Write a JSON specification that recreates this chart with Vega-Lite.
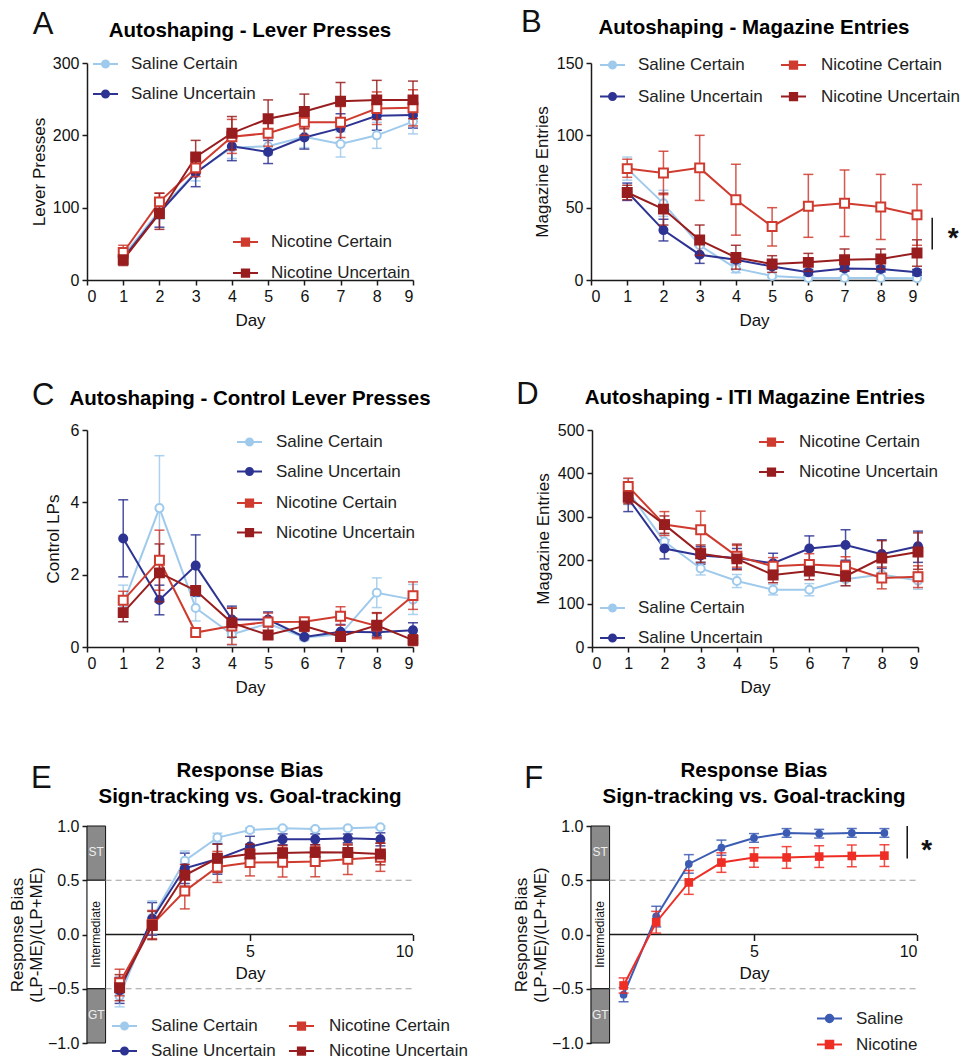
{
"$schema": "https://vega.github.io/schema/vega-lite/v6.json",
"padding": {"left": 8, "top": 6, "right": 5, "bottom": 5},
"bounds": "flush",
"spacing": 763,
"resolve": {"scale": {"color": "independent", "fill": "independent"}},
"config": {
  "font": "Liberation Sans",
  "view": {"stroke": null},
  "axis": {"domainColor": "#1a1a1a", "domainWidth": 1.5, "tickColor": "#1a1a1a", "tickWidth": 1.5, "tickSize": 5, "labelFontSize": 16, "labelColor": "#111", "labelPadding": 3, "titleFontSize": 17, "titleFontWeight": "normal", "titleColor": "#111", "grid": false, "labelOverlap": false},
  "axisX": {"labelAngle": 0},
  "legend": {"labelFontSize": 17, "labelColor": "#222", "padding": 0},
  "title": {"fontSize": 20.5, "fontWeight": "bold", "color": "#000", "anchor": "middle", "frame": "group", "offset": 0}
},
"datasets": {
"dA": [
{"g":"Saline Certain","day":1,"m":33,"lo":26,"hi":40},{"g":"Saline Certain","day":2,"m":96,"lo":84,"hi":108},{"g":"Saline Certain","day":3,"m":149,"lo":137,"hi":161},{"g":"Saline Certain","day":4,"m":183,"lo":168,"hi":198},{"g":"Saline Certain","day":5,"m":185,"lo":173,"hi":197},{"g":"Saline Certain","day":6,"m":198,"lo":183,"hi":213},{"g":"Saline Certain","day":7,"m":188,"lo":170,"hi":205},{"g":"Saline Certain","day":8,"m":200,"lo":182,"hi":218},{"g":"Saline Certain","day":9,"m":219,"lo":202,"hi":236},
{"g":"Saline Uncertain","day":1,"m":30,"lo":23,"hi":37},{"g":"Saline Uncertain","day":2,"m":93,"lo":73,"hi":113},{"g":"Saline Uncertain","day":3,"m":148,"lo":129,"hi":167},{"g":"Saline Uncertain","day":4,"m":185,"lo":165,"hi":205},{"g":"Saline Uncertain","day":5,"m":177,"lo":161,"hi":193},{"g":"Saline Uncertain","day":6,"m":197,"lo":181,"hi":213},{"g":"Saline Uncertain","day":7,"m":210,"lo":190,"hi":230},{"g":"Saline Uncertain","day":8,"m":227,"lo":207,"hi":247},{"g":"Saline Uncertain","day":9,"m":228,"lo":210,"hi":246},
{"g":"Nicotine Certain","day":1,"m":38,"lo":28,"hi":48},{"g":"Nicotine Certain","day":2,"m":108,"lo":96,"hi":120},{"g":"Nicotine Certain","day":3,"m":155,"lo":143,"hi":167},{"g":"Nicotine Certain","day":4,"m":198,"lo":175,"hi":222},{"g":"Nicotine Certain","day":5,"m":203,"lo":185,"hi":221},{"g":"Nicotine Certain","day":6,"m":218,"lo":200,"hi":237},{"g":"Nicotine Certain","day":7,"m":218,"lo":197,"hi":240},{"g":"Nicotine Certain","day":8,"m":237,"lo":215,"hi":260},{"g":"Nicotine Certain","day":9,"m":238,"lo":213,"hi":263},
{"g":"Nicotine Uncertain","day":1,"m":28,"lo":20,"hi":36},{"g":"Nicotine Uncertain","day":2,"m":92,"lo":70,"hi":120},{"g":"Nicotine Uncertain","day":3,"m":170,"lo":148,"hi":193},{"g":"Nicotine Uncertain","day":4,"m":203,"lo":180,"hi":226},{"g":"Nicotine Uncertain","day":5,"m":223,"lo":198,"hi":249},{"g":"Nicotine Uncertain","day":6,"m":233,"lo":209,"hi":257},{"g":"Nicotine Uncertain","day":7,"m":247,"lo":221,"hi":273},{"g":"Nicotine Uncertain","day":8,"m":249,"lo":222,"hi":276},{"g":"Nicotine Uncertain","day":9,"m":249,"lo":223,"hi":275}
],
"dB": [
{"g":"Saline Certain","day":1,"m":77,"lo":69,"hi":85},{"g":"Saline Certain","day":2,"m":53,"lo":44,"hi":62},{"g":"Saline Certain","day":3,"m":24,"lo":18,"hi":30},{"g":"Saline Certain","day":4,"m":8,"lo":5,"hi":11},{"g":"Saline Certain","day":5,"m":2.8,"lo":1.8,"hi":3.8},{"g":"Saline Certain","day":6,"m":1.4,"lo":0.8,"hi":2},{"g":"Saline Certain","day":7,"m":1.4,"lo":0.8,"hi":2},{"g":"Saline Certain","day":8,"m":1.4,"lo":0.8,"hi":2},{"g":"Saline Certain","day":9,"m":1.2,"lo":0.6,"hi":1.8},
{"g":"Saline Uncertain","day":1,"m":61,"lo":55,"hi":67},{"g":"Saline Uncertain","day":2,"m":34.5,"lo":27,"hi":42},{"g":"Saline Uncertain","day":3,"m":17.5,"lo":11.5,"hi":23.5},{"g":"Saline Uncertain","day":4,"m":14,"lo":11,"hi":17},{"g":"Saline Uncertain","day":5,"m":9.4,"lo":7.4,"hi":11.4},{"g":"Saline Uncertain","day":6,"m":5.3,"lo":3.3,"hi":7.3},{"g":"Saline Uncertain","day":7,"m":8,"lo":6,"hi":10},{"g":"Saline Uncertain","day":8,"m":7.6,"lo":5.6,"hi":9.6},{"g":"Saline Uncertain","day":9,"m":5.3,"lo":3.3,"hi":7.3},
{"g":"Nicotine Certain","day":1,"m":77,"lo":71,"hi":83.5},{"g":"Nicotine Certain","day":2,"m":74,"lo":59,"hi":89},{"g":"Nicotine Certain","day":3,"m":77.5,"lo":55,"hi":100},{"g":"Nicotine Certain","day":4,"m":55.5,"lo":31,"hi":80},{"g":"Nicotine Certain","day":5,"m":37,"lo":23.5,"hi":50},{"g":"Nicotine Certain","day":6,"m":51,"lo":29.5,"hi":73},{"g":"Nicotine Certain","day":7,"m":53,"lo":30,"hi":76},{"g":"Nicotine Certain","day":8,"m":50.4,"lo":28,"hi":73},{"g":"Nicotine Certain","day":9,"m":45,"lo":24,"hi":66},
{"g":"Nicotine Uncertain","day":1,"m":60.5,"lo":55.5,"hi":65.5},{"g":"Nicotine Uncertain","day":2,"m":49,"lo":38,"hi":60},{"g":"Nicotine Uncertain","day":3,"m":27.6,"lo":17,"hi":38},{"g":"Nicotine Uncertain","day":4,"m":15.6,"lo":7.5,"hi":24},{"g":"Nicotine Uncertain","day":5,"m":11,"lo":5.3,"hi":16.8},{"g":"Nicotine Uncertain","day":6,"m":12.2,"lo":6,"hi":18.4},{"g":"Nicotine Uncertain","day":7,"m":14,"lo":6.6,"hi":21.4},{"g":"Nicotine Uncertain","day":8,"m":14.5,"lo":7.6,"hi":21.4},{"g":"Nicotine Uncertain","day":9,"m":18.6,"lo":9.5,"hi":27.8}
],
"dC": [
{"g":"Saline Certain","day":1,"m":1.2,"lo":0.7,"hi":1.71},{"g":"Saline Certain","day":2,"m":3.84,"lo":2.38,"hi":5.29},{"g":"Saline Certain","day":3,"m":1.08,"lo":0.72,"hi":1.44},{"g":"Saline Certain","day":4,"m":0.35,"lo":0.05,"hi":0.65},{"g":"Saline Certain","day":5,"m":0.65,"lo":0.35,"hi":0.95},{"g":"Saline Certain","day":6,"m":0.26,"lo":0.18,"hi":0.34},{"g":"Saline Certain","day":7,"m":0.35,"lo":0.25,"hi":0.45},{"g":"Saline Certain","day":8,"m":1.5,"lo":1.09,"hi":1.91},{"g":"Saline Certain","day":9,"m":1.31,"lo":0.9,"hi":1.73},
{"g":"Saline Uncertain","day":1,"m":3.0,"lo":1.94,"hi":4.07},{"g":"Saline Uncertain","day":2,"m":1.3,"lo":0.89,"hi":1.71},{"g":"Saline Uncertain","day":3,"m":2.25,"lo":1.4,"hi":3.1},{"g":"Saline Uncertain","day":4,"m":0.76,"lo":0.38,"hi":1.13},{"g":"Saline Uncertain","day":5,"m":0.76,"lo":0.55,"hi":0.97},{"g":"Saline Uncertain","day":6,"m":0.28,"lo":0.23,"hi":0.33},{"g":"Saline Uncertain","day":7,"m":0.42,"lo":0.22,"hi":0.62},{"g":"Saline Uncertain","day":8,"m":0.41,"lo":0.31,"hi":0.51},{"g":"Saline Uncertain","day":9,"m":0.46,"lo":0.24,"hi":0.67},
{"g":"Nicotine Certain","day":1,"m":1.29,"lo":1.04,"hi":1.54},{"g":"Nicotine Certain","day":2,"m":2.4,"lo":1.57,"hi":3.23},{"g":"Nicotine Certain","day":3,"m":0.4,"lo":0.33,"hi":0.47},{"g":"Nicotine Certain","day":4,"m":0.58,"lo":0.07,"hi":1.08},{"g":"Nicotine Certain","day":5,"m":0.69,"lo":0.44,"hi":0.94},{"g":"Nicotine Certain","day":6,"m":0.7,"lo":0.6,"hi":0.8},{"g":"Nicotine Certain","day":7,"m":0.85,"lo":0.6,"hi":1.11},{"g":"Nicotine Certain","day":8,"m":0.58,"lo":0.23,"hi":0.93},{"g":"Nicotine Certain","day":9,"m":1.42,"lo":1.04,"hi":1.8},
{"g":"Nicotine Uncertain","day":1,"m":0.95,"lo":0.7,"hi":1.2},{"g":"Nicotine Uncertain","day":2,"m":2.05,"lo":1.25,"hi":2.85},{"g":"Nicotine Uncertain","day":3,"m":1.56,"lo":1.44,"hi":1.68},{"g":"Nicotine Uncertain","day":4,"m":0.67,"lo":0.27,"hi":1.07},{"g":"Nicotine Uncertain","day":5,"m":0.33,"lo":0.23,"hi":0.43},{"g":"Nicotine Uncertain","day":6,"m":0.58,"lo":0.43,"hi":0.73},{"g":"Nicotine Uncertain","day":7,"m":0.29,"lo":0.19,"hi":0.39},{"g":"Nicotine Uncertain","day":8,"m":0.6,"lo":0.27,"hi":0.95},{"g":"Nicotine Uncertain","day":9,"m":0.19,"lo":0.04,"hi":0.34}
],
"dD": [
{"g":"Saline Certain","day":1,"m":358,"lo":328,"hi":388},{"g":"Saline Certain","day":2,"m":243,"lo":228,"hi":258},{"g":"Saline Certain","day":3,"m":181,"lo":166,"hi":196},{"g":"Saline Certain","day":4,"m":152,"lo":137,"hi":167},{"g":"Saline Certain","day":5,"m":132,"lo":120,"hi":144},{"g":"Saline Certain","day":6,"m":132,"lo":118,"hi":146},{"g":"Saline Certain","day":7,"m":156,"lo":141,"hi":171},{"g":"Saline Certain","day":8,"m":167,"lo":149,"hi":185},{"g":"Saline Certain","day":9,"m":153,"lo":133,"hi":173},
{"g":"Saline Uncertain","day":1,"m":342,"lo":312,"hi":367},{"g":"Saline Uncertain","day":2,"m":227,"lo":203,"hi":247},{"g":"Saline Uncertain","day":3,"m":211,"lo":191,"hi":231},{"g":"Saline Uncertain","day":4,"m":205,"lo":180,"hi":227},{"g":"Saline Uncertain","day":5,"m":193,"lo":170,"hi":216},{"g":"Saline Uncertain","day":6,"m":227,"lo":199,"hi":256},{"g":"Saline Uncertain","day":7,"m":235,"lo":200,"hi":270},{"g":"Saline Uncertain","day":8,"m":214,"lo":181,"hi":247},{"g":"Saline Uncertain","day":9,"m":232,"lo":195,"hi":267},
{"g":"Nicotine Certain","day":1,"m":370,"lo":351,"hi":389},{"g":"Nicotine Certain","day":2,"m":282,"lo":257,"hi":312},{"g":"Nicotine Certain","day":3,"m":270,"lo":227,"hi":313},{"g":"Nicotine Certain","day":4,"m":209,"lo":184,"hi":234},{"g":"Nicotine Certain","day":5,"m":186,"lo":166,"hi":206},{"g":"Nicotine Certain","day":6,"m":190,"lo":165,"hi":215},{"g":"Nicotine Certain","day":7,"m":186,"lo":164,"hi":208},{"g":"Nicotine Certain","day":8,"m":159,"lo":134,"hi":184},{"g":"Nicotine Certain","day":9,"m":162,"lo":137,"hi":187},
{"g":"Nicotine Uncertain","day":1,"m":345,"lo":330,"hi":360},{"g":"Nicotine Uncertain","day":2,"m":282,"lo":262,"hi":302},{"g":"Nicotine Uncertain","day":3,"m":215,"lo":195,"hi":235},{"g":"Nicotine Uncertain","day":4,"m":203,"lo":178,"hi":237},{"g":"Nicotine Uncertain","day":5,"m":166,"lo":148,"hi":184},{"g":"Nicotine Uncertain","day":6,"m":175,"lo":155,"hi":195},{"g":"Nicotine Uncertain","day":7,"m":163,"lo":141,"hi":185},{"g":"Nicotine Uncertain","day":8,"m":205,"lo":165,"hi":245},{"g":"Nicotine Uncertain","day":9,"m":219,"lo":179,"hi":263}
],
"dE": [
{"g":"Saline Certain","day":1,"m":-0.567,"lo":-0.667,"hi":-0.467},{"g":"Saline Certain","day":2,"m":0.153,"lo":0.0,"hi":0.31},{"g":"Saline Certain","day":3,"m":0.68,"lo":0.59,"hi":0.77},{"g":"Saline Certain","day":4,"m":0.893,"lo":0.853,"hi":0.933},{"g":"Saline Certain","day":5,"m":0.963,"lo":0.943,"hi":0.983},{"g":"Saline Certain","day":6,"m":0.979,"lo":0.965,"hi":0.993},{"g":"Saline Certain","day":7,"m":0.972,"lo":0.958,"hi":0.986},{"g":"Saline Certain","day":8,"m":0.979,"lo":0.965,"hi":0.993},{"g":"Saline Certain","day":9,"m":0.988,"lo":0.975,"hi":1.0},
{"g":"Saline Uncertain","day":1,"m":-0.515,"lo":-0.635,"hi":-0.395},{"g":"Saline Uncertain","day":2,"m":0.144,"lo":-0.006,"hi":0.294},{"g":"Saline Uncertain","day":3,"m":0.61,"lo":0.47,"hi":0.75},{"g":"Saline Uncertain","day":4,"m":0.696,"lo":0.556,"hi":0.836},{"g":"Saline Uncertain","day":5,"m":0.81,"lo":0.71,"hi":0.905},{"g":"Saline Uncertain","day":6,"m":0.877,"lo":0.827,"hi":0.927},{"g":"Saline Uncertain","day":7,"m":0.877,"lo":0.827,"hi":0.927},{"g":"Saline Uncertain","day":8,"m":0.886,"lo":0.846,"hi":0.926},{"g":"Saline Uncertain","day":9,"m":0.877,"lo":0.817,"hi":0.937},
{"g":"Nicotine Certain","day":1,"m":-0.445,"lo":-0.565,"hi":-0.32},{"g":"Nicotine Certain","day":2,"m":0.092,"lo":-0.038,"hi":0.222},{"g":"Nicotine Certain","day":3,"m":0.4,"lo":0.236,"hi":0.564},{"g":"Nicotine Certain","day":4,"m":0.623,"lo":0.48,"hi":0.766},{"g":"Nicotine Certain","day":5,"m":0.663,"lo":0.54,"hi":0.786},{"g":"Nicotine Certain","day":6,"m":0.666,"lo":0.53,"hi":0.802},{"g":"Nicotine Certain","day":7,"m":0.672,"lo":0.532,"hi":0.812},{"g":"Nicotine Certain","day":8,"m":0.693,"lo":0.553,"hi":0.833},{"g":"Nicotine Certain","day":9,"m":0.712,"lo":0.582,"hi":0.842},
{"g":"Nicotine Uncertain","day":1,"m":-0.49,"lo":-0.61,"hi":-0.37},{"g":"Nicotine Uncertain","day":2,"m":0.083,"lo":-0.047,"hi":0.213},{"g":"Nicotine Uncertain","day":3,"m":0.546,"lo":0.446,"hi":0.646},{"g":"Nicotine Uncertain","day":4,"m":0.702,"lo":0.572,"hi":0.832},{"g":"Nicotine Uncertain","day":5,"m":0.742,"lo":0.652,"hi":0.832},{"g":"Nicotine Uncertain","day":6,"m":0.751,"lo":0.681,"hi":0.821},{"g":"Nicotine Uncertain","day":7,"m":0.758,"lo":0.688,"hi":0.828},{"g":"Nicotine Uncertain","day":8,"m":0.755,"lo":0.685,"hi":0.825},{"g":"Nicotine Uncertain","day":9,"m":0.742,"lo":0.642,"hi":0.842}
],
"dF": [
{"g":"Saline","day":1,"m":-0.555,"lo":-0.62,"hi":-0.49},{"g":"Saline","day":2,"m":0.166,"lo":0.07,"hi":0.26},{"g":"Saline","day":3,"m":0.65,"lo":0.565,"hi":0.736},{"g":"Saline","day":4,"m":0.8,"lo":0.73,"hi":0.87},{"g":"Saline","day":5,"m":0.89,"lo":0.85,"hi":0.93},{"g":"Saline","day":6,"m":0.936,"lo":0.896,"hi":0.976},{"g":"Saline","day":7,"m":0.929,"lo":0.889,"hi":0.969},{"g":"Saline","day":8,"m":0.936,"lo":0.896,"hi":0.976},{"g":"Saline","day":9,"m":0.936,"lo":0.896,"hi":0.976},
{"g":"Nicotine","day":1,"m":-0.47,"lo":-0.54,"hi":-0.4},{"g":"Nicotine","day":2,"m":0.113,"lo":0.013,"hi":0.213},{"g":"Nicotine","day":3,"m":0.48,"lo":0.37,"hi":0.59},{"g":"Nicotine","day":4,"m":0.663,"lo":0.573,"hi":0.753},{"g":"Nicotine","day":5,"m":0.71,"lo":0.62,"hi":0.8},{"g":"Nicotine","day":6,"m":0.71,"lo":0.61,"hi":0.81},{"g":"Nicotine","day":7,"m":0.718,"lo":0.618,"hi":0.818},{"g":"Nicotine","day":8,"m":0.724,"lo":0.624,"hi":0.824},{"g":"Nicotine","day":9,"m":0.727,"lo":0.627,"hi":0.827}
]
},
"vconcat": [
{
"bounds": "flush",
"spacing": 367,
"resolve": {"scale": {"color": "independent", "fill": "independent"}},
"vconcat": [
{
"bounds": "flush",
"spacing": 178,
"resolve": {"scale": {"color": "independent", "fill": "independent"}},
"hconcat": [
{
"width": 326, "height": 217,
"data": {"name": "dA"},
"title": {"text": "Autoshaping - Lever Presses", "dy": 36},
"layer": [
{"transform": [{"filter": "indexof(datum.g, 'Saline') == 0"}],
 "encoding": {"x": {"field": "day", "type": "quantitative", "scale": {"domain": [0, 9], "nice": false}, "axis": {"title": "Day", "values": [0,1,2,3,4,5,6,7,8,9], "tickCount": 10, "labelOverlap": false, "titlePadding": 8}}},
 "layer": [
  {"mark": {"type": "errorbar", "ticks": {"size": 10}, "thickness": 1.5, "opacity": 0.85}, "encoding": {"y": {"field": "lo", "type": "quantitative", "scale": {"domain": [0, 300], "nice": false}, "axis": {"title": "Lever Presses", "values": [0,100,200,300], "titlePadding": 4}}, "y2": {"field": "hi"}, "color": {"field": "g", "type": "nominal", "legend": {"title": null, "orient": "none", "legendX": 5, "legendY": -12.5, "direction": "vertical", "rowPadding": 8, "labelOffset": 12, "symbolSize": 625, "encode": {"symbols": {"update": {"shape": {"value": "M-1,0H-0.28M0.28,0H1M0.28,0A0.28,0.28 0 1,1 -0.28,0A0.28,0.28 0 1,1 0.28,0"}, "fill": {"value": {"expr": "datum.value == 'Saline Certain' ? '#ffffff' : '#2d3392'"}}, "stroke": {"value": {"expr": "datum.value == 'Saline Certain' ? '#9fcaec' : '#2d3392'"}}, "strokeWidth": {"value": 2}, "opacity": {"value": 1}}}}}}}},
  {"mark": {"type": "line", "strokeWidth": 2}, "encoding": {"y": {"field": "m", "type": "quantitative", "scale": {"domain": [0, 300], "nice": false}, "axis": {"title": "Lever Presses", "values": [0,100,200,300], "titlePadding": 4}}, "color": {"field": "g", "type": "nominal", "legend": {"title": null, "orient": "none", "legendX": 5, "legendY": -12.5, "direction": "vertical", "rowPadding": 8, "labelOffset": 12, "symbolSize": 625, "encode": {"symbols": {"update": {"shape": {"value": "M-1,0H-0.28M0.28,0H1M0.28,0A0.28,0.28 0 1,1 -0.28,0A0.28,0.28 0 1,1 0.28,0"}, "fill": {"value": {"expr": "datum.value == 'Saline Certain' ? '#ffffff' : '#2d3392'"}}, "stroke": {"value": {"expr": "datum.value == 'Saline Certain' ? '#9fcaec' : '#2d3392'"}}, "strokeWidth": {"value": 2}, "opacity": {"value": 1}}}}}}}},
  {"mark": {"type": "point", "shape": "circle", "size": 65, "strokeWidth": 2, "opacity": 1, "filled": false}, "encoding": {"y": {"field": "m", "type": "quantitative", "axis": {"title": "Lever Presses", "values": [0,100,200,300], "titlePadding": 4}}, "color": {"field": "g", "type": "nominal", "scale": {"domain": ["Saline Certain", "Saline Uncertain"], "range": ["#9fcaec", "#2d3392"]}, "legend": {"title": null, "orient": "none", "legendX": 5, "legendY": -12.5, "direction": "vertical", "rowPadding": 8, "labelOffset": 12, "symbolSize": 625, "encode": {"symbols": {"update": {"shape": {"value": "M-1,0H-0.28M0.28,0H1M0.28,0A0.28,0.28 0 1,1 -0.28,0A0.28,0.28 0 1,1 0.28,0"}, "fill": {"value": {"expr": "datum.value == 'Saline Certain' ? '#ffffff' : '#2d3392'"}}, "stroke": {"value": {"expr": "datum.value == 'Saline Certain' ? '#9fcaec' : '#2d3392'"}}, "strokeWidth": {"value": 2}, "opacity": {"value": 1}}}}}}, "fill": {"field": "g", "type": "nominal", "scale": {"domain": ["Saline Certain", "Saline Uncertain"], "range": ["#ffffff", "#2d3392"]}, "legend": null}}}
 ]},
{"transform": [{"filter": "indexof(datum.g, 'Nicotine') == 0"}],
 "encoding": {"x": {"field": "day", "type": "quantitative", "scale": {"domain": [0, 9], "nice": false}, "axis": {"title": "Day", "values": [0,1,2,3,4,5,6,7,8,9], "tickCount": 10, "labelOverlap": false, "titlePadding": 8}}},
 "layer": [
  {"mark": {"type": "errorbar", "ticks": {"size": 10}, "thickness": 1.5, "opacity": 0.85}, "encoding": {"y": {"field": "lo", "type": "quantitative", "scale": {"domain": [0, 300], "nice": false}, "axis": {"title": "Lever Presses", "values": [0,100,200,300], "titlePadding": 4}}, "y2": {"field": "hi"}, "color": {"field": "g", "type": "nominal", "legend": {"title": null, "orient": "none", "legendX": 145, "legendY": 165.5, "direction": "vertical", "rowPadding": 9, "labelOffset": 12, "symbolSize": 625, "encode": {"symbols": {"update": {"shape": {"value": "M-1,0H-0.29M0.29,0H1M-0.29,-0.29H0.29V0.29H-0.29Z"}, "fill": {"value": {"expr": "datum.value == 'Nicotine Certain' ? '#ffffff' : '#981d1f'"}}, "stroke": {"value": {"expr": "datum.value == 'Nicotine Certain' ? '#cf3b2f' : '#981d1f'"}}, "strokeWidth": {"value": 2}, "opacity": {"value": 1}}}}}}}},
  {"mark": {"type": "line", "strokeWidth": 2}, "encoding": {"y": {"field": "m", "type": "quantitative", "scale": {"domain": [0, 300], "nice": false}, "axis": {"title": "Lever Presses", "values": [0,100,200,300], "titlePadding": 4}}, "color": {"field": "g", "type": "nominal", "legend": {"title": null, "orient": "none", "legendX": 145, "legendY": 165.5, "direction": "vertical", "rowPadding": 9, "labelOffset": 12, "symbolSize": 625, "encode": {"symbols": {"update": {"shape": {"value": "M-1,0H-0.29M0.29,0H1M-0.29,-0.29H0.29V0.29H-0.29Z"}, "fill": {"value": {"expr": "datum.value == 'Nicotine Certain' ? '#ffffff' : '#981d1f'"}}, "stroke": {"value": {"expr": "datum.value == 'Nicotine Certain' ? '#cf3b2f' : '#981d1f'"}}, "strokeWidth": {"value": 2}, "opacity": {"value": 1}}}}}}}},
  {"mark": {"type": "point", "shape": "square", "size": 80, "strokeWidth": 2, "opacity": 1, "filled": false}, "encoding": {"y": {"field": "m", "type": "quantitative", "axis": {"title": "Lever Presses", "values": [0,100,200,300], "titlePadding": 4}}, "color": {"field": "g", "type": "nominal", "scale": {"domain": ["Nicotine Certain", "Nicotine Uncertain"], "range": ["#cf3b2f", "#981d1f"]}, "legend": {"title": null, "orient": "none", "legendX": 145, "legendY": 165.5, "direction": "vertical", "rowPadding": 9, "labelOffset": 12, "symbolSize": 625, "encode": {"symbols": {"update": {"shape": {"value": "M-1,0H-0.29M0.29,0H1M-0.29,-0.29H0.29V0.29H-0.29Z"}, "fill": {"value": {"expr": "datum.value == 'Nicotine Certain' ? '#ffffff' : '#981d1f'"}}, "stroke": {"value": {"expr": "datum.value == 'Nicotine Certain' ? '#cf3b2f' : '#981d1f'"}}, "strokeWidth": {"value": 2}, "opacity": {"value": 1}}}}}}, "fill": {"field": "g", "type": "nominal", "scale": {"domain": ["Nicotine Certain", "Nicotine Uncertain"], "range": ["#ffffff", "#981d1f"]}, "legend": null}}}
 ]},
{"data": {"values": [{"letter": "A"}]}, "mark": {"type": "text", "fontSize": 31, "align": "left", "baseline": "alphabetic", "color": "#111"}, "encoding": {"x": {"datum": -1.5}, "y": {"datum": 340}, "text": {"field": "letter"}}}
],
"resolve": {"scale": {"color": "independent", "fill": "independent"}}
},
{
"width": 326, "height": 217,
"data": {"name": "dB"},
"title": {"text": "Autoshaping - Magazine Entries", "dy": 36},
"layer": [
{"transform": [{"filter": "indexof(datum.g, 'Saline') == 0"}],
 "encoding": {"x": {"field": "day", "type": "quantitative", "scale": {"domain": [0, 9], "nice": false}, "axis": {"title": "Day", "values": [0,1,2,3,4,5,6,7,8,9], "tickCount": 10, "labelOverlap": false, "titlePadding": 8}}},
 "layer": [
  {"mark": {"type": "errorbar", "ticks": {"size": 10}, "thickness": 1.5, "opacity": 0.85}, "encoding": {"y": {"field": "lo", "type": "quantitative", "scale": {"domain": [0, 150], "nice": false}, "axis": {"title": "Magazine Entries", "values": [0,50,100,150], "titlePadding": 5}}, "y2": {"field": "hi"}, "color": {"field": "g", "type": "nominal", "legend": {"title": null, "orient": "none", "legendX": 8, "legendY": -11.5, "direction": "vertical", "rowPadding": 9.5, "labelOffset": 12, "symbolSize": 625, "encode": {"symbols": {"update": {"shape": {"value": "M-1,0H-0.28M0.28,0H1M0.28,0A0.28,0.28 0 1,1 -0.28,0A0.28,0.28 0 1,1 0.28,0"}, "fill": {"value": {"expr": "datum.value == 'Saline Certain' ? '#ffffff' : '#2d3392'"}}, "stroke": {"value": {"expr": "datum.value == 'Saline Certain' ? '#9fcaec' : '#2d3392'"}}, "strokeWidth": {"value": 2}, "opacity": {"value": 1}}}}}}}},
  {"mark": {"type": "line", "strokeWidth": 2}, "encoding": {"y": {"field": "m", "type": "quantitative", "scale": {"domain": [0, 150], "nice": false}, "axis": {"title": "Magazine Entries", "values": [0,50,100,150], "titlePadding": 5}}, "color": {"field": "g", "type": "nominal", "legend": {"title": null, "orient": "none", "legendX": 8, "legendY": -11.5, "direction": "vertical", "rowPadding": 9.5, "labelOffset": 12, "symbolSize": 625, "encode": {"symbols": {"update": {"shape": {"value": "M-1,0H-0.28M0.28,0H1M0.28,0A0.28,0.28 0 1,1 -0.28,0A0.28,0.28 0 1,1 0.28,0"}, "fill": {"value": {"expr": "datum.value == 'Saline Certain' ? '#ffffff' : '#2d3392'"}}, "stroke": {"value": {"expr": "datum.value == 'Saline Certain' ? '#9fcaec' : '#2d3392'"}}, "strokeWidth": {"value": 2}, "opacity": {"value": 1}}}}}}}},
  {"mark": {"type": "point", "shape": "circle", "size": 65, "strokeWidth": 2, "opacity": 1, "filled": false}, "encoding": {"y": {"field": "m", "type": "quantitative", "axis": {"title": "Magazine Entries", "values": [0,50,100,150], "titlePadding": 5}}, "color": {"field": "g", "type": "nominal", "scale": {"domain": ["Saline Certain", "Saline Uncertain"], "range": ["#9fcaec", "#2d3392"]}, "legend": {"title": null, "orient": "none", "legendX": 8, "legendY": -11.5, "direction": "vertical", "rowPadding": 9.5, "labelOffset": 12, "symbolSize": 625, "encode": {"symbols": {"update": {"shape": {"value": "M-1,0H-0.28M0.28,0H1M0.28,0A0.28,0.28 0 1,1 -0.28,0A0.28,0.28 0 1,1 0.28,0"}, "fill": {"value": {"expr": "datum.value == 'Saline Certain' ? '#ffffff' : '#2d3392'"}}, "stroke": {"value": {"expr": "datum.value == 'Saline Certain' ? '#9fcaec' : '#2d3392'"}}, "strokeWidth": {"value": 2}, "opacity": {"value": 1}}}}}}, "fill": {"field": "g", "type": "nominal", "scale": {"domain": ["Saline Certain", "Saline Uncertain"], "range": ["#ffffff", "#2d3392"]}, "legend": null}}}
 ]},
{"transform": [{"filter": "indexof(datum.g, 'Nicotine') == 0"}],
 "encoding": {"x": {"field": "day", "type": "quantitative", "scale": {"domain": [0, 9], "nice": false}, "axis": {"title": "Day", "values": [0,1,2,3,4,5,6,7,8,9], "tickCount": 10, "labelOverlap": false, "titlePadding": 8}}},
 "layer": [
  {"mark": {"type": "errorbar", "ticks": {"size": 10}, "thickness": 1.5, "opacity": 0.85}, "encoding": {"y": {"field": "lo", "type": "quantitative", "scale": {"domain": [0, 150], "nice": false}, "axis": {"title": "Magazine Entries", "values": [0,50,100,150], "titlePadding": 5}}, "y2": {"field": "hi"}, "color": {"field": "g", "type": "nominal", "legend": {"title": null, "orient": "none", "legendX": 189, "legendY": -11.5, "direction": "vertical", "rowPadding": 9.5, "labelOffset": 14, "symbolSize": 625, "encode": {"symbols": {"update": {"shape": {"value": "M-1,0H-0.29M0.29,0H1M-0.29,-0.29H0.29V0.29H-0.29Z"}, "fill": {"value": {"expr": "datum.value == 'Nicotine Certain' ? '#ffffff' : '#981d1f'"}}, "stroke": {"value": {"expr": "datum.value == 'Nicotine Certain' ? '#cf3b2f' : '#981d1f'"}}, "strokeWidth": {"value": 2}, "opacity": {"value": 1}}}}}}}},
  {"mark": {"type": "line", "strokeWidth": 2}, "encoding": {"y": {"field": "m", "type": "quantitative", "scale": {"domain": [0, 150], "nice": false}, "axis": {"title": "Magazine Entries", "values": [0,50,100,150], "titlePadding": 5}}, "color": {"field": "g", "type": "nominal", "legend": {"title": null, "orient": "none", "legendX": 189, "legendY": -11.5, "direction": "vertical", "rowPadding": 9.5, "labelOffset": 14, "symbolSize": 625, "encode": {"symbols": {"update": {"shape": {"value": "M-1,0H-0.29M0.29,0H1M-0.29,-0.29H0.29V0.29H-0.29Z"}, "fill": {"value": {"expr": "datum.value == 'Nicotine Certain' ? '#ffffff' : '#981d1f'"}}, "stroke": {"value": {"expr": "datum.value == 'Nicotine Certain' ? '#cf3b2f' : '#981d1f'"}}, "strokeWidth": {"value": 2}, "opacity": {"value": 1}}}}}}}},
  {"mark": {"type": "point", "shape": "square", "size": 80, "strokeWidth": 2, "opacity": 1, "filled": false}, "encoding": {"y": {"field": "m", "type": "quantitative", "axis": {"title": "Magazine Entries", "values": [0,50,100,150], "titlePadding": 5}}, "color": {"field": "g", "type": "nominal", "scale": {"domain": ["Nicotine Certain", "Nicotine Uncertain"], "range": ["#cf3b2f", "#981d1f"]}, "legend": {"title": null, "orient": "none", "legendX": 189, "legendY": -11.5, "direction": "vertical", "rowPadding": 9.5, "labelOffset": 14, "symbolSize": 625, "encode": {"symbols": {"update": {"shape": {"value": "M-1,0H-0.29M0.29,0H1M-0.29,-0.29H0.29V0.29H-0.29Z"}, "fill": {"value": {"expr": "datum.value == 'Nicotine Certain' ? '#ffffff' : '#981d1f'"}}, "stroke": {"value": {"expr": "datum.value == 'Nicotine Certain' ? '#cf3b2f' : '#981d1f'"}}, "strokeWidth": {"value": 2}, "opacity": {"value": 1}}}}}}, "fill": {"field": "g", "type": "nominal", "scale": {"domain": ["Nicotine Certain", "Nicotine Uncertain"], "range": ["#ffffff", "#981d1f"]}, "legend": null}}}
 ]},
{"data": {"values": [{"letter": "B"}]}, "mark": {"type": "text", "fontSize": 31, "align": "left", "baseline": "alphabetic", "color": "#111"}, "encoding": {"x": {"datum": -1.93}, "y": {"datum": 171.5}, "text": {"field": "letter"}}},
{"data": {"values": [{"sig": "*"}]}, "mark": {"type": "rule", "strokeWidth": 1.5, "color": "#111"}, "encoding": {"x": {"datum": 9.42}, "y": {"datum": 21}, "y2": {"datum": 43}}},
{"data": {"values": [{"sig": "*"}]}, "mark": {"type": "text", "fontSize": 28, "fontWeight": "bold", "align": "center", "baseline": "alphabetic", "color": "#111"}, "encoding": {"x": {"datum": 10.0}, "y": {"datum": 22.5}, "text": {"field": "sig"}}}
],
"resolve": {"scale": {"color": "independent", "fill": "independent"}}
}
]
},
{
"bounds": "flush",
"spacing": 179,
"resolve": {"scale": {"color": "independent", "fill": "independent"}},
"hconcat": [
{
"width": 326, "height": 217,
"data": {"name": "dC"},
"title": {"text": "Autoshaping - Control Lever Presses", "dy": 33},
"layer": [
{"transform": [{"filter": "indexof(datum.g, 'Saline') == 0"}],
 "encoding": {"x": {"field": "day", "type": "quantitative", "scale": {"domain": [0, 9], "nice": false}, "axis": {"title": "Day", "values": [0,1,2,3,4,5,6,7,8,9], "tickCount": 10, "labelOverlap": false, "titlePadding": 8}}},
 "layer": [
  {"mark": {"type": "errorbar", "ticks": {"size": 10}, "thickness": 1.5, "opacity": 0.85}, "encoding": {"y": {"field": "lo", "type": "quantitative", "scale": {"domain": [0, 6], "nice": false}, "axis": {"title": "Control LPs", "values": [0,2,4,6], "titlePadding": 8}}, "y2": {"field": "hi"}, "color": {"field": "g", "type": "nominal", "legend": {"title": null, "orient": "none", "legendX": 149, "legendY": -1.5, "direction": "vertical", "rowPadding": 7.5, "labelOffset": 13, "symbolSize": 625, "encode": {"symbols": {"update": {"shape": {"value": "M-1,0H-0.28M0.28,0H1M0.28,0A0.28,0.28 0 1,1 -0.28,0A0.28,0.28 0 1,1 0.28,0"}, "fill": {"value": {"expr": "datum.value == 'Saline Certain' ? '#ffffff' : '#2d3392'"}}, "stroke": {"value": {"expr": "datum.value == 'Saline Certain' ? '#9fcaec' : '#2d3392'"}}, "strokeWidth": {"value": 2}, "opacity": {"value": 1}}}}}}}},
  {"mark": {"type": "line", "strokeWidth": 2}, "encoding": {"y": {"field": "m", "type": "quantitative", "scale": {"domain": [0, 6], "nice": false}, "axis": {"title": "Control LPs", "values": [0,2,4,6], "titlePadding": 8}}, "color": {"field": "g", "type": "nominal", "legend": {"title": null, "orient": "none", "legendX": 149, "legendY": -1.5, "direction": "vertical", "rowPadding": 7.5, "labelOffset": 13, "symbolSize": 625, "encode": {"symbols": {"update": {"shape": {"value": "M-1,0H-0.28M0.28,0H1M0.28,0A0.28,0.28 0 1,1 -0.28,0A0.28,0.28 0 1,1 0.28,0"}, "fill": {"value": {"expr": "datum.value == 'Saline Certain' ? '#ffffff' : '#2d3392'"}}, "stroke": {"value": {"expr": "datum.value == 'Saline Certain' ? '#9fcaec' : '#2d3392'"}}, "strokeWidth": {"value": 2}, "opacity": {"value": 1}}}}}}}},
  {"mark": {"type": "point", "shape": "circle", "size": 65, "strokeWidth": 2, "opacity": 1, "filled": false}, "encoding": {"y": {"field": "m", "type": "quantitative", "axis": {"title": "Control LPs", "values": [0,2,4,6], "titlePadding": 8}}, "color": {"field": "g", "type": "nominal", "scale": {"domain": ["Saline Certain", "Saline Uncertain"], "range": ["#9fcaec", "#2d3392"]}, "legend": {"title": null, "orient": "none", "legendX": 149, "legendY": -1.5, "direction": "vertical", "rowPadding": 7.5, "labelOffset": 13, "symbolSize": 625, "encode": {"symbols": {"update": {"shape": {"value": "M-1,0H-0.28M0.28,0H1M0.28,0A0.28,0.28 0 1,1 -0.28,0A0.28,0.28 0 1,1 0.28,0"}, "fill": {"value": {"expr": "datum.value == 'Saline Certain' ? '#ffffff' : '#2d3392'"}}, "stroke": {"value": {"expr": "datum.value == 'Saline Certain' ? '#9fcaec' : '#2d3392'"}}, "strokeWidth": {"value": 2}, "opacity": {"value": 1}}}}}}, "fill": {"field": "g", "type": "nominal", "scale": {"domain": ["Saline Certain", "Saline Uncertain"], "range": ["#ffffff", "#2d3392"]}, "legend": null}}}
 ]},
{"transform": [{"filter": "indexof(datum.g, 'Nicotine') == 0"}],
 "encoding": {"x": {"field": "day", "type": "quantitative", "scale": {"domain": [0, 9], "nice": false}, "axis": {"title": "Day", "values": [0,1,2,3,4,5,6,7,8,9], "tickCount": 10, "labelOverlap": false, "titlePadding": 8}}},
 "layer": [
  {"mark": {"type": "errorbar", "ticks": {"size": 10}, "thickness": 1.5, "opacity": 0.85}, "encoding": {"y": {"field": "lo", "type": "quantitative", "scale": {"domain": [0, 6], "nice": false}, "axis": {"title": "Control LPs", "values": [0,2,4,6], "titlePadding": 8}}, "y2": {"field": "hi"}, "color": {"field": "g", "type": "nominal", "legend": {"title": null, "orient": "none", "legendX": 149, "legendY": 59.5, "direction": "vertical", "rowPadding": 7.5, "labelOffset": 13, "symbolSize": 625, "encode": {"symbols": {"update": {"shape": {"value": "M-1,0H-0.29M0.29,0H1M-0.29,-0.29H0.29V0.29H-0.29Z"}, "fill": {"value": {"expr": "datum.value == 'Nicotine Certain' ? '#ffffff' : '#981d1f'"}}, "stroke": {"value": {"expr": "datum.value == 'Nicotine Certain' ? '#cf3b2f' : '#981d1f'"}}, "strokeWidth": {"value": 2}, "opacity": {"value": 1}}}}}}}},
  {"mark": {"type": "line", "strokeWidth": 2}, "encoding": {"y": {"field": "m", "type": "quantitative", "scale": {"domain": [0, 6], "nice": false}, "axis": {"title": "Control LPs", "values": [0,2,4,6], "titlePadding": 8}}, "color": {"field": "g", "type": "nominal", "legend": {"title": null, "orient": "none", "legendX": 149, "legendY": 59.5, "direction": "vertical", "rowPadding": 7.5, "labelOffset": 13, "symbolSize": 625, "encode": {"symbols": {"update": {"shape": {"value": "M-1,0H-0.29M0.29,0H1M-0.29,-0.29H0.29V0.29H-0.29Z"}, "fill": {"value": {"expr": "datum.value == 'Nicotine Certain' ? '#ffffff' : '#981d1f'"}}, "stroke": {"value": {"expr": "datum.value == 'Nicotine Certain' ? '#cf3b2f' : '#981d1f'"}}, "strokeWidth": {"value": 2}, "opacity": {"value": 1}}}}}}}},
  {"mark": {"type": "point", "shape": "square", "size": 80, "strokeWidth": 2, "opacity": 1, "filled": false}, "encoding": {"y": {"field": "m", "type": "quantitative", "axis": {"title": "Control LPs", "values": [0,2,4,6], "titlePadding": 8}}, "color": {"field": "g", "type": "nominal", "scale": {"domain": ["Nicotine Certain", "Nicotine Uncertain"], "range": ["#cf3b2f", "#981d1f"]}, "legend": {"title": null, "orient": "none", "legendX": 149, "legendY": 59.5, "direction": "vertical", "rowPadding": 7.5, "labelOffset": 13, "symbolSize": 625, "encode": {"symbols": {"update": {"shape": {"value": "M-1,0H-0.29M0.29,0H1M-0.29,-0.29H0.29V0.29H-0.29Z"}, "fill": {"value": {"expr": "datum.value == 'Nicotine Certain' ? '#ffffff' : '#981d1f'"}}, "stroke": {"value": {"expr": "datum.value == 'Nicotine Certain' ? '#cf3b2f' : '#981d1f'"}}, "strokeWidth": {"value": 2}, "opacity": {"value": 1}}}}}}, "fill": {"field": "g", "type": "nominal", "scale": {"domain": ["Nicotine Certain", "Nicotine Uncertain"], "range": ["#ffffff", "#981d1f"]}, "legend": null}}}
 ]},
{"data": {"values": [{"letter": "C"}]}, "mark": {"type": "text", "fontSize": 31, "align": "left", "baseline": "alphabetic", "color": "#111"}, "encoding": {"x": {"datum": -1.52}, "y": {"datum": 6.69}, "text": {"field": "letter"}}}
],
"resolve": {"scale": {"color": "independent", "fill": "independent"}}
},
{
"width": 326, "height": 217,
"data": {"name": "dD"},
"title": {"text": "Autoshaping - ITI Magazine Entries", "dy": 34},
"layer": [
{"transform": [{"filter": "indexof(datum.g, 'Saline') == 0"}],
 "encoding": {"x": {"field": "day", "type": "quantitative", "scale": {"domain": [0, 9], "nice": false}, "axis": {"title": "Day", "values": [0,1,2,3,4,5,6,7,8,9], "tickCount": 10, "labelOverlap": false, "titlePadding": 8}}},
 "layer": [
  {"mark": {"type": "errorbar", "ticks": {"size": 10}, "thickness": 1.5, "opacity": 0.85}, "encoding": {"y": {"field": "lo", "type": "quantitative", "scale": {"domain": [0, 500], "nice": false}, "axis": {"title": "Magazine Entries", "values": [0,100,200,300,400,500], "titlePadding": 5}}, "y2": {"field": "hi"}, "color": {"field": "g", "type": "nominal", "legend": {"title": null, "orient": "none", "legendX": 7, "legendY": 164.5, "direction": "vertical", "rowPadding": 8, "labelOffset": 12, "symbolSize": 625, "encode": {"symbols": {"update": {"shape": {"value": "M-1,0H-0.28M0.28,0H1M0.28,0A0.28,0.28 0 1,1 -0.28,0A0.28,0.28 0 1,1 0.28,0"}, "fill": {"value": {"expr": "datum.value == 'Saline Certain' ? '#ffffff' : '#2d3392'"}}, "stroke": {"value": {"expr": "datum.value == 'Saline Certain' ? '#9fcaec' : '#2d3392'"}}, "strokeWidth": {"value": 2}, "opacity": {"value": 1}}}}}}}},
  {"mark": {"type": "line", "strokeWidth": 2}, "encoding": {"y": {"field": "m", "type": "quantitative", "scale": {"domain": [0, 500], "nice": false}, "axis": {"title": "Magazine Entries", "values": [0,100,200,300,400,500], "titlePadding": 5}}, "color": {"field": "g", "type": "nominal", "legend": {"title": null, "orient": "none", "legendX": 7, "legendY": 164.5, "direction": "vertical", "rowPadding": 8, "labelOffset": 12, "symbolSize": 625, "encode": {"symbols": {"update": {"shape": {"value": "M-1,0H-0.28M0.28,0H1M0.28,0A0.28,0.28 0 1,1 -0.28,0A0.28,0.28 0 1,1 0.28,0"}, "fill": {"value": {"expr": "datum.value == 'Saline Certain' ? '#ffffff' : '#2d3392'"}}, "stroke": {"value": {"expr": "datum.value == 'Saline Certain' ? '#9fcaec' : '#2d3392'"}}, "strokeWidth": {"value": 2}, "opacity": {"value": 1}}}}}}}},
  {"mark": {"type": "point", "shape": "circle", "size": 65, "strokeWidth": 2, "opacity": 1, "filled": false}, "encoding": {"y": {"field": "m", "type": "quantitative", "axis": {"title": "Magazine Entries", "values": [0,100,200,300,400,500], "titlePadding": 5}}, "color": {"field": "g", "type": "nominal", "scale": {"domain": ["Saline Certain", "Saline Uncertain"], "range": ["#9fcaec", "#2d3392"]}, "legend": {"title": null, "orient": "none", "legendX": 7, "legendY": 164.5, "direction": "vertical", "rowPadding": 8, "labelOffset": 12, "symbolSize": 625, "encode": {"symbols": {"update": {"shape": {"value": "M-1,0H-0.28M0.28,0H1M0.28,0A0.28,0.28 0 1,1 -0.28,0A0.28,0.28 0 1,1 0.28,0"}, "fill": {"value": {"expr": "datum.value == 'Saline Certain' ? '#ffffff' : '#2d3392'"}}, "stroke": {"value": {"expr": "datum.value == 'Saline Certain' ? '#9fcaec' : '#2d3392'"}}, "strokeWidth": {"value": 2}, "opacity": {"value": 1}}}}}}, "fill": {"field": "g", "type": "nominal", "scale": {"domain": ["Saline Certain", "Saline Uncertain"], "range": ["#ffffff", "#2d3392"]}, "legend": null}}}
 ]},
{"transform": [{"filter": "indexof(datum.g, 'Nicotine') == 0"}],
 "encoding": {"x": {"field": "day", "type": "quantitative", "scale": {"domain": [0, 9], "nice": false}, "axis": {"title": "Day", "values": [0,1,2,3,4,5,6,7,8,9], "tickCount": 10, "labelOverlap": false, "titlePadding": 8}}},
 "layer": [
  {"mark": {"type": "errorbar", "ticks": {"size": 10}, "thickness": 1.5, "opacity": 0.85}, "encoding": {"y": {"field": "lo", "type": "quantitative", "scale": {"domain": [0, 500], "nice": false}, "axis": {"title": "Magazine Entries", "values": [0,100,200,300,400,500], "titlePadding": 5}}, "y2": {"field": "hi"}, "color": {"field": "g", "type": "nominal", "legend": {"title": null, "orient": "none", "legendX": 166, "legendY": -1.5, "direction": "vertical", "rowPadding": 8, "labelOffset": 14, "symbolSize": 625, "encode": {"symbols": {"update": {"shape": {"value": "M-1,0H-0.29M0.29,0H1M-0.29,-0.29H0.29V0.29H-0.29Z"}, "fill": {"value": {"expr": "datum.value == 'Nicotine Certain' ? '#ffffff' : '#981d1f'"}}, "stroke": {"value": {"expr": "datum.value == 'Nicotine Certain' ? '#cf3b2f' : '#981d1f'"}}, "strokeWidth": {"value": 2}, "opacity": {"value": 1}}}}}}}},
  {"mark": {"type": "line", "strokeWidth": 2}, "encoding": {"y": {"field": "m", "type": "quantitative", "scale": {"domain": [0, 500], "nice": false}, "axis": {"title": "Magazine Entries", "values": [0,100,200,300,400,500], "titlePadding": 5}}, "color": {"field": "g", "type": "nominal", "legend": {"title": null, "orient": "none", "legendX": 166, "legendY": -1.5, "direction": "vertical", "rowPadding": 8, "labelOffset": 14, "symbolSize": 625, "encode": {"symbols": {"update": {"shape": {"value": "M-1,0H-0.29M0.29,0H1M-0.29,-0.29H0.29V0.29H-0.29Z"}, "fill": {"value": {"expr": "datum.value == 'Nicotine Certain' ? '#ffffff' : '#981d1f'"}}, "stroke": {"value": {"expr": "datum.value == 'Nicotine Certain' ? '#cf3b2f' : '#981d1f'"}}, "strokeWidth": {"value": 2}, "opacity": {"value": 1}}}}}}}},
  {"mark": {"type": "point", "shape": "square", "size": 80, "strokeWidth": 2, "opacity": 1, "filled": false}, "encoding": {"y": {"field": "m", "type": "quantitative", "axis": {"title": "Magazine Entries", "values": [0,100,200,300,400,500], "titlePadding": 5}}, "color": {"field": "g", "type": "nominal", "scale": {"domain": ["Nicotine Certain", "Nicotine Uncertain"], "range": ["#cf3b2f", "#981d1f"]}, "legend": {"title": null, "orient": "none", "legendX": 166, "legendY": -1.5, "direction": "vertical", "rowPadding": 8, "labelOffset": 14, "symbolSize": 625, "encode": {"symbols": {"update": {"shape": {"value": "M-1,0H-0.29M0.29,0H1M-0.29,-0.29H0.29V0.29H-0.29Z"}, "fill": {"value": {"expr": "datum.value == 'Nicotine Certain' ? '#ffffff' : '#981d1f'"}}, "stroke": {"value": {"expr": "datum.value == 'Nicotine Certain' ? '#cf3b2f' : '#981d1f'"}}, "strokeWidth": {"value": 2}, "opacity": {"value": 1}}}}}}, "fill": {"field": "g", "type": "nominal", "scale": {"domain": ["Nicotine Certain", "Nicotine Uncertain"], "range": ["#ffffff", "#981d1f"]}, "legend": null}}}
 ]},
{"data": {"values": [{"letter": "D"}]}, "mark": {"type": "text", "fontSize": 31, "align": "left", "baseline": "alphabetic", "color": "#111"}, "encoding": {"x": {"datum": -2.09}, "y": {"datum": 560}, "text": {"field": "letter"}}}
],
"resolve": {"scale": {"color": "independent", "fill": "independent"}}
}
]
}
]
},
{
"bounds": "flush",
"spacing": 178,
"resolve": {"scale": {"color": "independent", "fill": "independent"}},
"hconcat": [
{
"width": 326, "height": 217,
"data": {"name": "dE"},
"title": {"text": ["Response Bias", "Sign-tracking vs. Goal-tracking"], "lineHeight": 26, "dy": 48},
"layer": [
{"data": {"values": [{"zone": "ST", "lo": 0.5, "hi": 1.0}, {"zone": "Intermediate", "lo": -0.5, "hi": 0.5}, {"zone": "GT", "lo": -1.0, "hi": -0.5}]}, "mark": {"type": "rect", "stroke": "#111", "strokeWidth": 1}, "encoding": {"x": {"datum": 0}, "x2": {"datum": 0.57}, "y": {"field": "lo", "type": "quantitative", "scale": {"domain": [-1, 1], "nice": false}, "axis": {"title": ["Response Bias", "(LP-ME)/(LP+ME)"], "values": [-1, -0.5, 0, 0.5, 1], "format": ".1f", "titlePadding": 2}}, "y2": {"field": "hi"}, "fill": {"condition": {"test": "datum.zone == 'Intermediate'", "value": "#ffffff"}, "value": "#8a8a8a"}}},
{"data": {"values": [{"t": "ST"}]}, "mark": {"type": "text", "fontSize": 12, "color": "#eeeeee"}, "encoding": {"x": {"datum": 0.285}, "y": {"datum": 0.76}, "text": {"field": "t"}}},
{"data": {"values": [{"t": "GT"}]}, "mark": {"type": "text", "fontSize": 12, "color": "#eeeeee"}, "encoding": {"x": {"datum": 0.285}, "y": {"datum": -0.74}, "text": {"field": "t"}}},
{"data": {"values": [{"t": "Intermediate"}]}, "mark": {"type": "text", "fontSize": 12, "color": "#111", "angle": 270}, "encoding": {"x": {"datum": 0.285}, "y": {"datum": 0}, "text": {"field": "t"}}},
{"data": {"values": [{"b": 0.5}, {"b": -0.5}]}, "mark": {"type": "rule", "stroke": "#a0a0a0", "strokeWidth": 1.2, "strokeDash": [6, 4]}, "encoding": {"x": {"datum": 0.57}, "x2": {"datum": 10}, "y": {"field": "b", "type": "quantitative", "axis": {"title": ["Response Bias", "(LP-ME)/(LP+ME)"], "values": [-1, -0.5, 0, 0.5, 1], "format": ".1f", "titlePadding": 2}}}},
{"data": {"values": [{"b": 0}]}, "mark": {"type": "rule", "stroke": "#1a1a1a", "strokeWidth": 1.5}, "encoding": {"x": {"datum": 0.57}, "x2": {"datum": 10}, "y": {"field": "b", "type": "quantitative", "axis": {"title": ["Response Bias", "(LP-ME)/(LP+ME)"], "values": [-1, -0.5, 0, 0.5, 1], "format": ".1f", "titlePadding": 2}}}},
{"transform": [{"filter": "indexof(datum.g, 'Saline') == 0"}],
 "encoding": {"x": {"field": "day", "type": "quantitative", "scale": {"domain": [0, 10], "nice": false}, "axis": {"title": "Day", "values": [5, 10], "offset": -108.5, "domain": false, "tickSize": 6, "titlePadding": 6}}},
 "layer": [
  {"mark": {"type": "errorbar", "ticks": {"size": 10}, "thickness": 1.5, "opacity": 0.85}, "encoding": {"y": {"field": "lo", "type": "quantitative", "scale": {"domain": [-1, 1], "nice": false}, "axis": {"title": ["Response Bias", "(LP-ME)/(LP+ME)"], "values": [-1, -0.5, 0, 0.5, 1], "format": ".1f", "titlePadding": 2}}, "y2": {"field": "hi"}, "color": {"field": "g", "type": "nominal", "legend": {"title": null, "orient": "none", "legendX": 24, "legendY": 186.5, "direction": "vertical", "rowPadding": 3, "labelOffset": 13, "symbolSize": 625, "encode": {"symbols": {"update": {"shape": {"value": "M-1,0H-0.28M0.28,0H1M0.28,0A0.28,0.28 0 1,1 -0.28,0A0.28,0.28 0 1,1 0.28,0"}, "fill": {"value": {"expr": "datum.value == 'Saline Certain' ? '#ffffff' : '#2d3392'"}}, "stroke": {"value": {"expr": "datum.value == 'Saline Certain' ? '#9fcaec' : '#2d3392'"}}, "strokeWidth": {"value": 2}, "opacity": {"value": 1}}}}}}}},
  {"mark": {"type": "line", "strokeWidth": 2}, "encoding": {"y": {"field": "m", "type": "quantitative", "scale": {"domain": [-1, 1], "nice": false}, "axis": {"title": ["Response Bias", "(LP-ME)/(LP+ME)"], "values": [-1, -0.5, 0, 0.5, 1], "format": ".1f", "titlePadding": 2}}, "color": {"field": "g", "type": "nominal", "legend": {"title": null, "orient": "none", "legendX": 24, "legendY": 186.5, "direction": "vertical", "rowPadding": 3, "labelOffset": 13, "symbolSize": 625, "encode": {"symbols": {"update": {"shape": {"value": "M-1,0H-0.28M0.28,0H1M0.28,0A0.28,0.28 0 1,1 -0.28,0A0.28,0.28 0 1,1 0.28,0"}, "fill": {"value": {"expr": "datum.value == 'Saline Certain' ? '#ffffff' : '#2d3392'"}}, "stroke": {"value": {"expr": "datum.value == 'Saline Certain' ? '#9fcaec' : '#2d3392'"}}, "strokeWidth": {"value": 2}, "opacity": {"value": 1}}}}}}}},
  {"mark": {"type": "point", "shape": "circle", "size": 65, "strokeWidth": 2, "opacity": 1, "filled": false}, "encoding": {"y": {"field": "m", "type": "quantitative", "axis": {"title": ["Response Bias", "(LP-ME)/(LP+ME)"], "values": [-1, -0.5, 0, 0.5, 1], "format": ".1f", "titlePadding": 2}}, "color": {"field": "g", "type": "nominal", "scale": {"domain": ["Saline Certain", "Saline Uncertain"], "range": ["#9fcaec", "#2d3392"]}, "legend": {"title": null, "orient": "none", "legendX": 24, "legendY": 186.5, "direction": "vertical", "rowPadding": 3, "labelOffset": 13, "symbolSize": 625, "encode": {"symbols": {"update": {"shape": {"value": "M-1,0H-0.28M0.28,0H1M0.28,0A0.28,0.28 0 1,1 -0.28,0A0.28,0.28 0 1,1 0.28,0"}, "fill": {"value": {"expr": "datum.value == 'Saline Certain' ? '#ffffff' : '#2d3392'"}}, "stroke": {"value": {"expr": "datum.value == 'Saline Certain' ? '#9fcaec' : '#2d3392'"}}, "strokeWidth": {"value": 2}, "opacity": {"value": 1}}}}}}, "fill": {"field": "g", "type": "nominal", "scale": {"domain": ["Saline Certain", "Saline Uncertain"], "range": ["#ffffff", "#2d3392"]}, "legend": null}}}
 ]},
{"transform": [{"filter": "indexof(datum.g, 'Nicotine') == 0"}],
 "encoding": {"x": {"field": "day", "type": "quantitative", "scale": {"domain": [0, 10], "nice": false}, "axis": {"title": "Day", "values": [5, 10], "offset": -108.5, "domain": false, "tickSize": 6, "titlePadding": 6}}},
 "layer": [
  {"mark": {"type": "errorbar", "ticks": {"size": 10}, "thickness": 1.5, "opacity": 0.85}, "encoding": {"y": {"field": "lo", "type": "quantitative", "scale": {"domain": [-1, 1], "nice": false}, "axis": {"title": ["Response Bias", "(LP-ME)/(LP+ME)"], "values": [-1, -0.5, 0, 0.5, 1], "format": ".1f", "titlePadding": 2}}, "y2": {"field": "hi"}, "color": {"field": "g", "type": "nominal", "legend": {"title": null, "orient": "none", "legendX": 201, "legendY": 186.5, "direction": "vertical", "rowPadding": 3, "labelOffset": 14, "symbolSize": 625, "encode": {"symbols": {"update": {"shape": {"value": "M-1,0H-0.29M0.29,0H1M-0.29,-0.29H0.29V0.29H-0.29Z"}, "fill": {"value": {"expr": "datum.value == 'Nicotine Certain' ? '#ffffff' : '#981d1f'"}}, "stroke": {"value": {"expr": "datum.value == 'Nicotine Certain' ? '#cf3b2f' : '#981d1f'"}}, "strokeWidth": {"value": 2}, "opacity": {"value": 1}}}}}}}},
  {"mark": {"type": "line", "strokeWidth": 2}, "encoding": {"y": {"field": "m", "type": "quantitative", "scale": {"domain": [-1, 1], "nice": false}, "axis": {"title": ["Response Bias", "(LP-ME)/(LP+ME)"], "values": [-1, -0.5, 0, 0.5, 1], "format": ".1f", "titlePadding": 2}}, "color": {"field": "g", "type": "nominal", "legend": {"title": null, "orient": "none", "legendX": 201, "legendY": 186.5, "direction": "vertical", "rowPadding": 3, "labelOffset": 14, "symbolSize": 625, "encode": {"symbols": {"update": {"shape": {"value": "M-1,0H-0.29M0.29,0H1M-0.29,-0.29H0.29V0.29H-0.29Z"}, "fill": {"value": {"expr": "datum.value == 'Nicotine Certain' ? '#ffffff' : '#981d1f'"}}, "stroke": {"value": {"expr": "datum.value == 'Nicotine Certain' ? '#cf3b2f' : '#981d1f'"}}, "strokeWidth": {"value": 2}, "opacity": {"value": 1}}}}}}}},
  {"mark": {"type": "point", "shape": "square", "size": 80, "strokeWidth": 2, "opacity": 1, "filled": false}, "encoding": {"y": {"field": "m", "type": "quantitative", "axis": {"title": ["Response Bias", "(LP-ME)/(LP+ME)"], "values": [-1, -0.5, 0, 0.5, 1], "format": ".1f", "titlePadding": 2}}, "color": {"field": "g", "type": "nominal", "scale": {"domain": ["Nicotine Certain", "Nicotine Uncertain"], "range": ["#cf3b2f", "#981d1f"]}, "legend": {"title": null, "orient": "none", "legendX": 201, "legendY": 186.5, "direction": "vertical", "rowPadding": 3, "labelOffset": 14, "symbolSize": 625, "encode": {"symbols": {"update": {"shape": {"value": "M-1,0H-0.29M0.29,0H1M-0.29,-0.29H0.29V0.29H-0.29Z"}, "fill": {"value": {"expr": "datum.value == 'Nicotine Certain' ? '#ffffff' : '#981d1f'"}}, "stroke": {"value": {"expr": "datum.value == 'Nicotine Certain' ? '#cf3b2f' : '#981d1f'"}}, "strokeWidth": {"value": 2}, "opacity": {"value": 1}}}}}}, "fill": {"field": "g", "type": "nominal", "scale": {"domain": ["Nicotine Certain", "Nicotine Uncertain"], "range": ["#ffffff", "#981d1f"]}, "legend": null}}}
 ]},
{"data": {"values": [{"letter": "E"}]}, "mark": {"type": "text", "fontSize": 31, "align": "left", "baseline": "alphabetic", "color": "#111"}, "encoding": {"x": {"datum": -1.72}, "y": {"datum": 1.35}, "text": {"field": "letter"}}}
],
"resolve": {"scale": {"color": "independent", "fill": "independent"}}
},
{
"width": 326, "height": 217,
"data": {"name": "dF"},
"title": {"text": ["Response Bias", "Sign-tracking vs. Goal-tracking"], "lineHeight": 26, "dy": 48},
"layer": [
{"data": {"values": [{"zone": "ST", "lo": 0.5, "hi": 1.0}, {"zone": "Intermediate", "lo": -0.5, "hi": 0.5}, {"zone": "GT", "lo": -1.0, "hi": -0.5}]}, "mark": {"type": "rect", "stroke": "#111", "strokeWidth": 1}, "encoding": {"x": {"datum": 0}, "x2": {"datum": 0.57}, "y": {"field": "lo", "type": "quantitative", "scale": {"domain": [-1, 1], "nice": false}, "axis": {"title": ["Response Bias", "(LP-ME)/(LP+ME)"], "values": [-1, -0.5, 0, 0.5, 1], "format": ".1f", "titlePadding": 2}}, "y2": {"field": "hi"}, "fill": {"condition": {"test": "datum.zone == 'Intermediate'", "value": "#ffffff"}, "value": "#8a8a8a"}}},
{"data": {"values": [{"t": "ST"}]}, "mark": {"type": "text", "fontSize": 12, "color": "#eeeeee"}, "encoding": {"x": {"datum": 0.285}, "y": {"datum": 0.76}, "text": {"field": "t"}}},
{"data": {"values": [{"t": "GT"}]}, "mark": {"type": "text", "fontSize": 12, "color": "#eeeeee"}, "encoding": {"x": {"datum": 0.285}, "y": {"datum": -0.74}, "text": {"field": "t"}}},
{"data": {"values": [{"t": "Intermediate"}]}, "mark": {"type": "text", "fontSize": 12, "color": "#111", "angle": 270}, "encoding": {"x": {"datum": 0.285}, "y": {"datum": 0}, "text": {"field": "t"}}},
{"data": {"values": [{"b": 0.5}, {"b": -0.5}]}, "mark": {"type": "rule", "stroke": "#a0a0a0", "strokeWidth": 1.2, "strokeDash": [6, 4]}, "encoding": {"x": {"datum": 0.57}, "x2": {"datum": 10}, "y": {"field": "b", "type": "quantitative", "axis": {"title": ["Response Bias", "(LP-ME)/(LP+ME)"], "values": [-1, -0.5, 0, 0.5, 1], "format": ".1f", "titlePadding": 2}}}},
{"data": {"values": [{"b": 0}]}, "mark": {"type": "rule", "stroke": "#1a1a1a", "strokeWidth": 1.5}, "encoding": {"x": {"datum": 0.57}, "x2": {"datum": 10}, "y": {"field": "b", "type": "quantitative", "axis": {"title": ["Response Bias", "(LP-ME)/(LP+ME)"], "values": [-1, -0.5, 0, 0.5, 1], "format": ".1f", "titlePadding": 2}}}},
{"transform": [{"filter": "datum.g == 'Saline'"}],
 "encoding": {"x": {"field": "day", "type": "quantitative", "scale": {"domain": [0, 10], "nice": false}, "axis": {"title": "Day", "values": [5, 10], "offset": -108.5, "domain": false, "tickSize": 6, "titlePadding": 6}}},
 "layer": [
  {"mark": {"type": "errorbar", "ticks": {"size": 10}, "thickness": 1.5, "opacity": 0.85}, "encoding": {"y": {"field": "lo", "type": "quantitative", "scale": {"domain": [-1, 1], "nice": false}, "axis": {"title": ["Response Bias", "(LP-ME)/(LP+ME)"], "values": [-1, -0.5, 0, 0.5, 1], "format": ".1f", "titlePadding": 2}}, "y2": {"field": "hi"}, "color": {"field": "g", "type": "nominal", "legend": {"title": null, "orient": "none", "legendX": 225, "legendY": 179, "direction": "vertical", "labelOffset": 13, "symbolSize": 625, "encode": {"symbols": {"update": {"shape": {"value": "M-1,0H-0.3M0.3,0H1M0.3,0A0.3,0.3 0 1,1 -0.3,0A0.3,0.3 0 1,1 0.3,0"}, "fill": {"value": "#3c5cb4"}, "stroke": {"value": "#3c5cb4"}, "strokeWidth": {"value": 2}, "opacity": {"value": 1}}}}}}}},
  {"mark": {"type": "line", "strokeWidth": 2}, "encoding": {"y": {"field": "m", "type": "quantitative", "scale": {"domain": [-1, 1], "nice": false}, "axis": {"title": ["Response Bias", "(LP-ME)/(LP+ME)"], "values": [-1, -0.5, 0, 0.5, 1], "format": ".1f", "titlePadding": 2}}, "color": {"field": "g", "type": "nominal", "legend": {"title": null, "orient": "none", "legendX": 225, "legendY": 179, "direction": "vertical", "labelOffset": 13, "symbolSize": 625, "encode": {"symbols": {"update": {"shape": {"value": "M-1,0H-0.3M0.3,0H1M0.3,0A0.3,0.3 0 1,1 -0.3,0A0.3,0.3 0 1,1 0.3,0"}, "fill": {"value": "#3c5cb4"}, "stroke": {"value": "#3c5cb4"}, "strokeWidth": {"value": 2}, "opacity": {"value": 1}}}}}}}},
  {"mark": {"type": "point", "shape": "circle", "size": 60, "strokeWidth": 1.5, "opacity": 1, "filled": true}, "encoding": {"y": {"field": "m", "type": "quantitative", "axis": {"title": ["Response Bias", "(LP-ME)/(LP+ME)"], "values": [-1, -0.5, 0, 0.5, 1], "format": ".1f", "titlePadding": 2}}, "color": {"field": "g", "type": "nominal", "scale": {"domain": ["Saline"], "range": ["#3c5cb4"]}, "legend": {"title": null, "orient": "none", "legendX": 225, "legendY": 179, "direction": "vertical", "labelOffset": 13, "symbolSize": 625, "encode": {"symbols": {"update": {"shape": {"value": "M-1,0H-0.3M0.3,0H1M0.3,0A0.3,0.3 0 1,1 -0.3,0A0.3,0.3 0 1,1 0.3,0"}, "fill": {"value": "#3c5cb4"}, "stroke": {"value": "#3c5cb4"}, "strokeWidth": {"value": 2}, "opacity": {"value": 1}}}}}}}}
 ]},
{"transform": [{"filter": "datum.g == 'Nicotine'"}],
 "encoding": {"x": {"field": "day", "type": "quantitative", "scale": {"domain": [0, 10], "nice": false}, "axis": {"title": "Day", "values": [5, 10], "offset": -108.5, "domain": false, "tickSize": 6, "titlePadding": 6}}},
 "layer": [
  {"mark": {"type": "errorbar", "ticks": {"size": 10}, "thickness": 1.5, "opacity": 0.85}, "encoding": {"y": {"field": "lo", "type": "quantitative", "scale": {"domain": [-1, 1], "nice": false}, "axis": {"title": ["Response Bias", "(LP-ME)/(LP+ME)"], "values": [-1, -0.5, 0, 0.5, 1], "format": ".1f", "titlePadding": 2}}, "y2": {"field": "hi"}, "color": {"field": "g", "type": "nominal", "legend": {"title": null, "orient": "none", "legendX": 225, "legendY": 205, "direction": "vertical", "labelOffset": 13, "symbolSize": 625, "encode": {"symbols": {"update": {"shape": {"value": "M-1,0H-0.3M0.3,0H1M-0.3,-0.3H0.3V0.3H-0.3Z"}, "fill": {"value": "#ee2e24"}, "stroke": {"value": "#ee2e24"}, "strokeWidth": {"value": 2}, "opacity": {"value": 1}}}}}}}},
  {"mark": {"type": "line", "strokeWidth": 2}, "encoding": {"y": {"field": "m", "type": "quantitative", "scale": {"domain": [-1, 1], "nice": false}, "axis": {"title": ["Response Bias", "(LP-ME)/(LP+ME)"], "values": [-1, -0.5, 0, 0.5, 1], "format": ".1f", "titlePadding": 2}}, "color": {"field": "g", "type": "nominal", "legend": {"title": null, "orient": "none", "legendX": 225, "legendY": 205, "direction": "vertical", "labelOffset": 13, "symbolSize": 625, "encode": {"symbols": {"update": {"shape": {"value": "M-1,0H-0.3M0.3,0H1M-0.3,-0.3H0.3V0.3H-0.3Z"}, "fill": {"value": "#ee2e24"}, "stroke": {"value": "#ee2e24"}, "strokeWidth": {"value": 2}, "opacity": {"value": 1}}}}}}}},
  {"mark": {"type": "point", "shape": "square", "size": 75, "strokeWidth": 1.5, "opacity": 1, "filled": true}, "encoding": {"y": {"field": "m", "type": "quantitative", "axis": {"title": ["Response Bias", "(LP-ME)/(LP+ME)"], "values": [-1, -0.5, 0, 0.5, 1], "format": ".1f", "titlePadding": 2}}, "color": {"field": "g", "type": "nominal", "scale": {"domain": ["Nicotine"], "range": ["#ee2e24"]}, "legend": {"title": null, "orient": "none", "legendX": 225, "legendY": 205, "direction": "vertical", "labelOffset": 13, "symbolSize": 625, "encode": {"symbols": {"update": {"shape": {"value": "M-1,0H-0.3M0.3,0H1M-0.3,-0.3H0.3V0.3H-0.3Z"}, "fill": {"value": "#ee2e24"}, "stroke": {"value": "#ee2e24"}, "strokeWidth": {"value": 2}, "opacity": {"value": 1}}}}}}}}
 ]},
{"data": {"values": [{"letter": "F"}]}, "mark": {"type": "text", "fontSize": 31, "align": "left", "baseline": "alphabetic", "color": "#111"}, "encoding": {"x": {"datum": -2.05}, "y": {"datum": 1.35}, "text": {"field": "letter"}}},
{"data": {"values": [{"sig": "*"}]}, "mark": {"type": "rule", "strokeWidth": 1.5, "color": "#111"}, "encoding": {"x": {"datum": 9.7}, "y": {"datum": 0.7}, "y2": {"datum": 1.0}}},
{"data": {"values": [{"sig": "*"}]}, "mark": {"type": "text", "fontSize": 28, "fontWeight": "bold", "align": "center", "baseline": "alphabetic", "color": "#111"}, "encoding": {"x": {"datum": 10.3}, "y": {"datum": 0.7}, "text": {"field": "sig"}}}
],
"resolve": {"scale": {"color": "independent", "fill": "independent"}}
}
]
}
]
}
